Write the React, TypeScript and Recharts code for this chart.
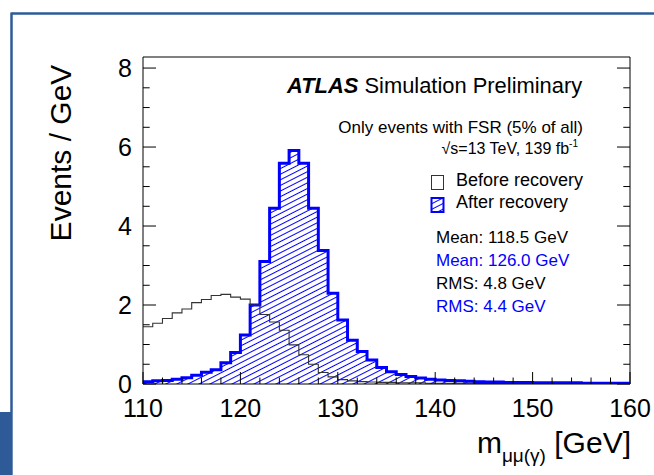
import React from 'react';
import { ComposedChart, Line, Area, XAxis, YAxis } from 'recharts';

// m_mumu(gamma) histogram, 1 GeV bins from 110 to 160
const BIN_EDGES = Array.from({ length: 51 }, (_, i) => 110 + i);

// Events / GeV before FSR photon recovery
const BEFORE_RECOVERY = [
  1.45, 1.54, 1.66, 1.8, 1.9, 2.06, 2.14, 2.24, 2.27, 2.2,
  2.15, 2.0, 1.76, 1.57, 1.36, 0.99, 0.74, 0.5, 0.29, 0.18,
  0.11, 0.08, 0.06, 0.05, 0.04, 0.04, 0.03, 0.03, 0.03, 0.02,
  0.02, 0.02, 0.02, 0.02, 0.01, 0.01, 0.01, 0.01, 0.01, 0.01,
  0.01, 0.01, 0.01, 0.01, 0.01, 0.01, 0.01, 0.01, 0.01, 0.01,
];

// Events / GeV after FSR photon recovery
const AFTER_RECOVERY = [
  0.06, 0.08, 0.09, 0.12, 0.16, 0.22, 0.3, 0.36, 0.54, 0.8,
  1.24, 2.0, 3.1, 4.45, 5.59, 5.91, 5.59, 4.45, 3.38, 2.3,
  1.62, 1.11, 0.82, 0.61, 0.42, 0.31, 0.24, 0.19, 0.15, 0.12,
  0.1, 0.09, 0.08, 0.07, 0.06, 0.05, 0.05, 0.04, 0.04, 0.04,
  0.03, 0.03, 0.03, 0.03, 0.03, 0.02, 0.02, 0.02, 0.02, 0.02,
];

const X_TICKS = Array.from({ length: 26 }, (_, i) => 110 + 2 * i);
const Y_TICKS = Array.from({ length: 17 }, (_, i) => i * 0.5);
const X_DOMAIN: [number, number] = [110, 160];
const Y_DOMAIN: [number, number] = [0, 8.28];

const STATS = [
  { label: 'Mean: 118.5 GeV', color: '#000' },
  { label: 'Mean: 126.0 GeV', color: '#0000ff' },
  { label: 'RMS: 4.8 GeV', color: '#000' },
  { label: 'RMS: 4.4 GeV', color: '#0000ff' },
];

const FONT = '"Liberation Sans", Arial, Helvetica, sans-serif';
const BLUE = '#0000ff';
const FRAME_BLUE = '#2e5b98';

// the last edge repeats the last bin so stepAfter closes the histogram at 160
const data = BIN_EDGES.map((x, i) => ({
  x,
  before: BEFORE_RECOVERY[Math.min(i, BEFORE_RECOVERY.length - 1)],
  after: AFTER_RECOVERY[Math.min(i, AFTER_RECOVERY.length - 1)],
}));

const isMajorX = (v: number) => v % 10 === 0;
const isMajorY = (v: number) => Math.abs(v % 2) < 1e-6;

function BottomTick({ x, y, payload }: any) {
  const major = isMajorX(payload.value);
  return (
    <g>
      <line x1={x} y1={y} x2={x} y2={y - (major ? 12 : 6.5)} stroke="#000" strokeWidth={1} />
      {major && (
        <text x={x} y={y + 33} textAnchor="middle" fontSize={25} fontFamily={FONT} fill="#000">
          {payload.value}
        </text>
      )}
    </g>
  );
}

function TopTick({ x, y, payload }: any) {
  const major = isMajorX(payload.value);
  return <line x1={x} y1={y} x2={x} y2={y + (major ? 12 : 6.5)} stroke="#000" strokeWidth={1} />;
}

function LeftTick({ x, y, payload }: any) {
  const major = isMajorY(payload.value);
  return (
    <g>
      <line x1={x} y1={y} x2={x + (major ? 13 : 6.7)} y2={y} stroke="#000" strokeWidth={1} />
      {major && (
        <text x={x - 11} y={y + 9} textAnchor="end" fontSize={25} fontFamily={FONT} fill="#000">
          {payload.value}
        </text>
      )}
    </g>
  );
}

function RightTick({ x, y, payload }: any) {
  const major = isMajorY(payload.value);
  return <line x1={x} y1={y} x2={x - (major ? 13 : 6.7)} y2={y} stroke="#000" strokeWidth={1} />;
}

function Hatch({ id }: { id: string }) {
  return (
    <pattern id={id} patternUnits="userSpaceOnUse" width={8} height={5} patternTransform="rotate(-27)">
      <line x1={0} y1={2.5} x2={8} y2={2.5} stroke={BLUE} strokeWidth={1} />
    </pattern>
  );
}

function Annotations() {
  return (
    <svg
      width={654}
      height={475}
      style={{ position: 'absolute', left: 0, top: 0, pointerEvents: 'none' }}
      fontFamily={FONT}
    >
      <defs>
        <Hatch id="legendHatch" />
      </defs>

      {/* slide frame */}
      <line x1={11.5} y1={13.5} x2={654} y2={13.5} stroke={FRAME_BLUE} strokeWidth={2.5} />
      <line x1={11.5} y1={12.5} x2={11.5} y2={412} stroke={FRAME_BLUE} strokeWidth={2.5} />
      <rect x={0} y={412} width={12.7} height={63} fill={FRAME_BLUE} />

      {/* axis titles */}
      <text
        x={71}
        y={153}
        transform="rotate(-90 71 153)"
        textAnchor="middle"
        fontSize={30}
        fill="#000"
      >
        Events / GeV
      </text>
      <text x={631} y={453} textAnchor="end" fontSize={30} fill="#000">
        m
        <tspan fontSize={19} dy={9}>μμ(γ)</tspan>
        <tspan dy={-9}> [GeV]</tspan>
      </text>

      {/* labels */}
      <text x={287} y={93} fontSize={21.9} fill="#000">
        <tspan fontWeight="bold" fontStyle="italic">ATLAS</tspan> Simulation Preliminary
      </text>
      <text x={583} y={133} textAnchor="end" fontSize={17} fill="#000">
        Only events with FSR (5% of all)
      </text>
      <text x={578} y={154} textAnchor="end" fontSize={16} fill="#000">
        √s=13 TeV, 139 fb
        <tspan fontSize={10} dy={-7}>-1</tspan>
      </text>

      {/* legend */}
      <rect x={431.5} y={175.5} width={12} height={14} fill="none" stroke="#333" strokeWidth={1} />
      <text x={456} y={186} fontSize={18} fill="#000">Before recovery</text>
      <rect x={431.5} y={198} width={12} height={14} fill="url(#legendHatch)" stroke={BLUE} strokeWidth={2} />
      <text x={456} y={208} fontSize={18} fill="#000">After recovery</text>

      {STATS.map((s, i) => (
        <text key={s.label} x={436} y={243 + i * 23} fontSize={17} fill={s.color}>
          {s.label}
        </text>
      ))}
    </svg>
  );
}

export default function App() {
  return (
    <div style={{ position: 'relative', width: 654, height: 475, background: '#fff' }}>
      <style>{'body { margin: 0; }'}</style>
      <ComposedChart
        width={654}
        height={475}
        data={data}
        margin={{ top: 56, right: 23, bottom: 90, left: 142 }}
      >
        <defs>
          <Hatch id="afterHatch" />
        </defs>
        <XAxis
          dataKey="x"
          type="number"
          domain={X_DOMAIN}
          ticks={X_TICKS}
          interval={0}
          height={1}
          tickSize={0}
          tickMargin={0}
          tickLine={false}
          tick={<BottomTick />}
          axisLine={{ stroke: '#000', strokeWidth: 1 }}
          allowDataOverflow
        />
        <XAxis
          xAxisId="top"
          orientation="top"
          type="number"
          domain={X_DOMAIN}
          ticks={X_TICKS}
          interval={0}
          height={1}
          tickSize={0}
          tickMargin={0}
          tickLine={false}
          tick={<TopTick />}
          axisLine={{ stroke: '#000', strokeWidth: 1 }}
          allowDataOverflow
        />
        <YAxis
          type="number"
          domain={Y_DOMAIN}
          ticks={Y_TICKS}
          interval={0}
          width={1}
          tickSize={0}
          tickMargin={0}
          tickLine={false}
          tick={<LeftTick />}
          axisLine={{ stroke: '#000', strokeWidth: 1 }}
          allowDataOverflow
        />
        <YAxis
          yAxisId="right"
          orientation="right"
          type="number"
          domain={Y_DOMAIN}
          ticks={Y_TICKS}
          interval={0}
          width={1}
          tickSize={0}
          tickMargin={0}
          tickLine={false}
          tick={<RightTick />}
          axisLine={{ stroke: '#000', strokeWidth: 1 }}
          allowDataOverflow
        />
        <Line
          dataKey="before"
          type="stepAfter"
          stroke="#333"
          strokeWidth={1.1}
          dot={false}
          isAnimationActive={false}
        />
        <Area
          dataKey="after"
          type="stepAfter"
          stroke={BLUE}
          strokeWidth={3}
          fill="url(#afterHatch)"
          fillOpacity={1}
          dot={false}
          isAnimationActive={false}
        />
      </ComposedChart>
      <Annotations />
    </div>
  );
}
